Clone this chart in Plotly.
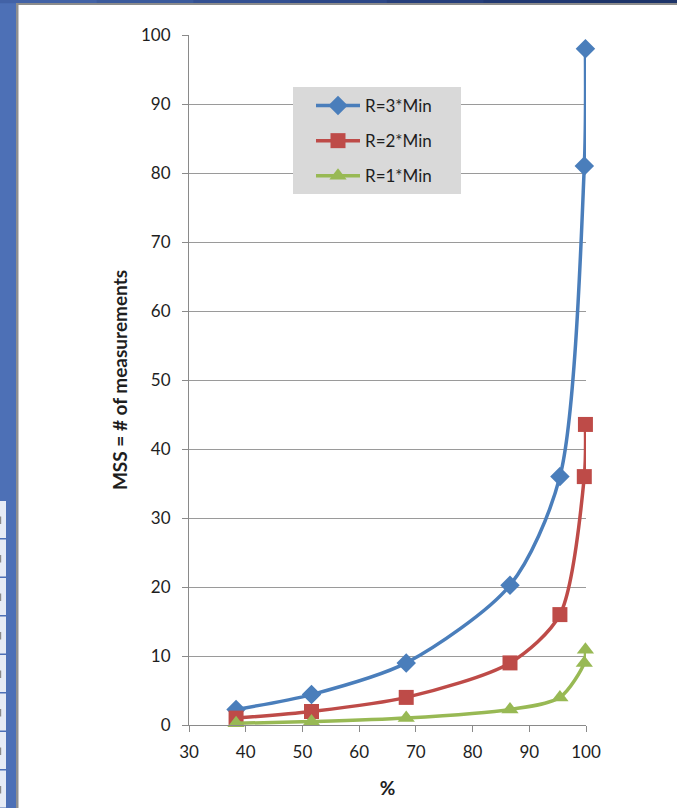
import plotly.graph_objects as go

# ---- data ----
pct = [38.3, 51.6, 68.3, 86.6, 95.4, 99.7, 99.9]
mss_r3 = [2.25, 4.41, 9.0, 20.25, 36.0, 81.0, 98.0]
mss_r2 = [1.0, 1.96, 4.0, 9.0, 16.0, 36.0, 43.56]
mss_r1 = [0.25, 0.49, 1.0, 2.25, 4.0, 9.0, 10.89]
series_names = ["R=3*Min", "R=2*Min", "R=1*Min"]
x_ticks = [30, 40, 50, 60, 70, 80, 90, 100]
y_ticks = [0, 10, 20, 30, 40, 50, 60, 70, 80, 90, 100]

W, H = 677, 808
L, R, T, B = 189, 586, 35, 725
FONT = "Lato, Open Sans, sans-serif"
TXT = "#1e1e1e"

def px(x):
    return (x - L) / (R - L)

def py(y):
    return (B - y) / (B - T)

fig = go.Figure()
colors = ["#4a7ebb", "#be4b48", "#98b954"]
symbols = ["diamond", "square", "triangle-up"]
sizes = [15, 15, 15]
for i, (name, ys) in enumerate(zip(series_names, [mss_r3, mss_r2, mss_r1])):
    fig.add_trace(go.Scatter(
        x=pct, y=ys, name=name, mode="lines+markers",
        line=dict(color=colors[i], width=3.5, shape="spline", smoothing=0.8),
        marker=dict(symbol=symbols[i], size=sizes[i], color=colors[i]),
        legendgroup=name, cliponaxis=False,
    ))

def rect(x0, x1, y0, y1, color, layer="below"):
    return dict(type="rect", xref="paper", yref="paper", x0=px(x0), x1=px(x1),
                y0=py(y1), y1=py(y0), fillcolor=color, line=dict(width=0), layer=layer)

shapes = []
# left blue strip and panel border
shapes.append(rect(0, 16.5, 0, 808, "#4d70b6"))
shapes.append(rect(16, 18.5, 4, 808, "#8f8f8f"))
# top dark strip (gradient approximation)
grad = ["#4262a6", "#3b5a9c", "#335092", "#2c4787", "#263f7c", "#213972", "#1d3469"]
n = len(grad)
for k, c in enumerate(grad):
    shapes.append(rect(k * W / n, (k + 1) * W / n + 1, 0, 3.2, c, "above"))
shapes.append(rect(16, W, 3, 5, "#8c8c8c", "above"))
# table fragment bottom-left
top = 501
rowh = 38.5
k = 0
while top + k * rowh < 808:
    y0 = top + k * rowh
    shapes.append(rect(0, 6, y0, min(808, y0 + rowh - 1.5), "#e6ebf5"))
    shapes.append(rect(0, 1.2, y0 + rowh * 0.4, min(808, y0 + rowh * 0.6), "#8a8a8a"))
    k += 1
# legend box (drawn above gridlines, under the legend itself)
shapes.append(rect(293, 461, 87, 194, "#d9d9d9", "above"))

fig.update_layout(
    width=W, height=H,
    margin=dict(l=L, r=W - R, t=T, b=H - B, pad=0),
    paper_bgcolor="white", plot_bgcolor="white",
    font=dict(family=FONT, size=17, color=TXT),
    shapes=shapes,
    showlegend=True,
    legend=dict(
        x=px(311), y=py(88), xanchor="left", yanchor="top",
        bgcolor="rgba(0,0,0,0)", borderwidth=0,
        font=dict(family=FONT, size=17, color=TXT),
        traceorder="grouped", tracegroupgap=10,
        itemwidth=44,
    ),
    xaxis=dict(
        range=[30, 100], tickvals=x_ticks, ticktext=[str(v) for v in x_ticks],
        showgrid=False, zeroline=False, showline=True, linecolor="#8a8a8a", linewidth=1,
        ticks="outside", ticklen=6, tickcolor="#8a8a8a", ticklabelstandoff=6,
        tickfont=dict(family=FONT, size=17, color=TXT),
        title=dict(text="<b>%</b>", font=dict(family=FONT, size=19, color=TXT), standoff=20),
    ),
    yaxis=dict(
        range=[0, 100], tickvals=y_ticks, ticktext=[str(v) for v in y_ticks],
        showgrid=True, gridcolor="#9a9a9a", gridwidth=1, zeroline=False,
        showline=True, linecolor="#8a8a8a", linewidth=1,
        ticks="outside", ticklen=6, tickcolor="#8a8a8a", ticklabelstandoff=8,
        tickfont=dict(family=FONT, size=17, color=TXT),
        title=dict(text="<b>MSS = # of measurements</b>", font=dict(family=FONT, size=19, color=TXT), standoff=8),
    ),
)

fig.write_html("out.html", config={"displayModeBar": False},
               post_script="document.body.style.margin='0';document.body.style.padding='0';")
